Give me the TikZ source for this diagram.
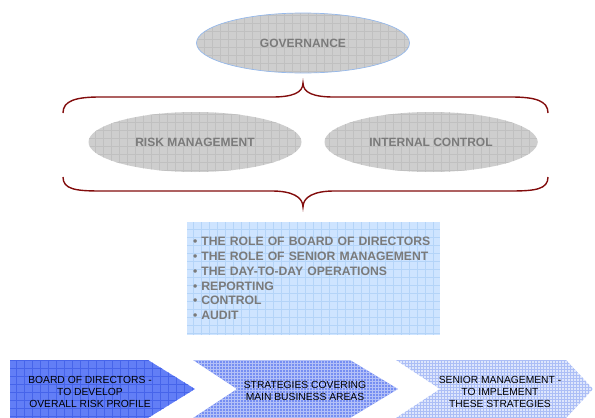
\documentclass[tikz,border=0pt]{standalone}
\usepackage{fontspec}
\setmainfont{Liberation Sans}
\usepackage{tikz}
\usetikzlibrary{shapes.geometric}

\definecolor{bracered}{RGB}{130,12,12}
\definecolor{ovalgray}{RGB}{206,206,206}
\definecolor{ovalline}{RGB}{192,192,192}
\definecolor{textgray}{RGB}{122,122,122}
\definecolor{govblue}{RGB}{150,185,235}
\definecolor{listblue}{RGB}{206,228,255}
\definecolor{listline}{RGB}{180,212,248}
\definecolor{stepblue}{RGB}{98,126,246}
\definecolor{stepline}{RGB}{70,100,234}
\definecolor{midblue}{RGB}{118,142,242}
\definecolor{paleblue}{RGB}{222,230,252}
\definecolor{paleline}{RGB}{172,190,246}

\begin{document}
\begin{tikzpicture}[x=1pt, y=-1pt, every node/.style={inner sep=0pt},
    gridded/.style 2 args={path picture={\draw[#1, line width=0.5pt]
        (path picture bounding box.south west) grid[step=#2]
        (path picture bounding box.north east);}},
    oval/.style={ellipse, fill=ovalgray, gridded={ovalline}{8pt},
        minimum width=213pt, minimum height=60pt, text=textgray,
        font=\fontsize{12}{14}\selectfont\bfseries},
    bracepath/.style={draw=bracered, line width=1.4pt},
    steptext/.style={align=center, font=\fontsize{10.3}{12.3}\selectfont}]
      \useasboundingbox (0,0) rectangle (595,418);

      \node[oval, draw=govblue, line width=0.7pt] (1) at (303,43) {GOVERNANCE};
      \node[oval] (2) at (195,142) {RISK MANAGEMENT};
      \node[oval] (3) at (431,142) {INTERNAL CONTROL};

      % upper and lower braces
      \path[bracepath] (63,113) .. controls (63,101) and (75,97) .. (100,97) -- (272,97)
          .. controls (292,97) and (303,93) .. (303,83)
          .. controls (303,93) and (314,97) .. (334,97) -- (511,97)
          .. controls (536,97) and (548,101) .. (548,113);
      \path[bracepath] (63,177) .. controls (63,189) and (75,191) .. (100,191) -- (272,191)
          .. controls (292,191) and (303,197) .. (303,207)
          .. controls (303,197) and (314,191) .. (334,191) -- (511,191)
          .. controls (536,191) and (548,189) .. (548,177);

      \node[fill=listblue, gridded={listline}{8pt}, text width=241pt, inner xsep=6pt,
          minimum height=113pt, align=left, text=textgray,
          font=\fontsize{12.2}{14.8}\selectfont\bfseries] (4) at (313.5,278.5)
          {• THE ROLE OF BOARD OF DIRECTORS\\
           • THE ROLE OF SENIOR MANAGEMENT\\
           • THE DAY-TO-DAY OPERATIONS\\
           • REPORTING\\
           • CONTROL\\
           • AUDIT};

      % the three steps
      \path[fill=stepblue, gridded={stepline}{8pt}]
          (10,360) -- (148,360) -- (195,389) -- (148,418) -- (10,418) -- cycle;
      \path[fill=midblue, gridded={white, opacity=0.45}{3pt}]
          (193,360) -- (350,360) -- (398,389) -- (350,418) -- (193,418) -- (237,389) -- cycle;
      \path[fill=paleblue, gridded={paleline}{3pt}]
          (396,360) -- (566,360) -- (593,389) -- (566,418) -- (396,418) -- (440,389) -- cycle;

      \node[steptext] (5) at (90,392) {BOARD OF DIRECTORS -\\TO DEVELOP\\OVERALL RISK PROFILE};
      \node[steptext] (6) at (305,391) {STRATEGIES COVERING\\MAIN BUSINESS AREAS};
      \node[steptext] (7) at (500,392) {SENIOR MANAGEMENT -\\TO IMPLEMENT\\THESE STRATEGIES};
\end{tikzpicture}
\end{document}
